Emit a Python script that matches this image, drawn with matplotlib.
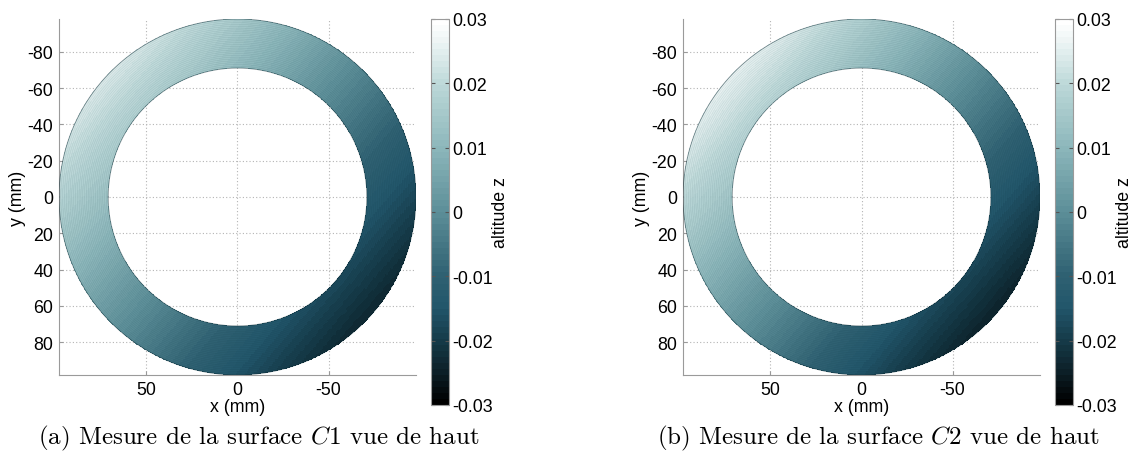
"""Top view of the two measured ring surfaces C1 and C2 (altitude z)."""
import matplotlib
matplotlib.use("Agg")
import matplotlib.pyplot as plt
import numpy as np
from matplotlib.colors import LinearSegmentedColormap

plt.rcParams["font.family"] = ["Liberation Sans", "DejaVu Sans"]
plt.rcParams["font.size"] = 12.8
plt.rcParams["mathtext.fontset"] = "cm"
plt.rcParams["axes.unicode_minus"] = False

# ring geometry (mm) and altitude read at the outer rim of each surface
RING_INNER, RING_OUTER = 71.0, 98.0
RING_STEP = 1.0
rim_z_c1 = {"left": 0.017, "right": -0.019, "top": 0.017, "bottom": -0.014}
rim_z_c2 = {"left": 0.019, "right": -0.019, "top": 0.018, "bottom": -0.015}

captions = ["(a) Mesure de la surface $C1$ vue de haut",
            "(b) Mesure de la surface $C2$ vue de haut"]
x_ticks = [50, 0, -50]
y_ticks = [-80, -60, -40, -20, 0, 20, 40, 60, 80]
z_ticks = [-0.03, -0.02, -0.01, 0, 0.01, 0.02, 0.03]
z_labels = ["-0.03", "-0.02", "-0.01", "0", "0.01", "0.02", "0.03"]

cmap = LinearSegmentedColormap.from_list("teal", [
    (0.0, "#000000"), (0.08, "#0c1f27"), (1 / 6, "#163c4a"),
    (0.25, "#22566b"), (1 / 3, "#2f6172"), (0.5, "#5c8e98"),
    (2 / 3, "#8bb6ba"), (5 / 6, "#bcd8d8"), (0.95, "#eef5f5"),
    (1.0, "#ffffff")], N=64)

GRID = "#b4b4b4"
SPINE = "#9a9a9a"
W, H = 1134, 452


def surface(ax, rim):
    th = np.linspace(0, 2 * np.pi, 721)
    r = np.arange(RING_INNER, RING_OUTER + 0.01, RING_STEP)
    T, R = np.meshgrid(th, r)
    X, Y = R * np.cos(T), R * np.sin(T)
    # tilted plane through the rim readings
    a = (rim["left"] - rim["right"]) / (2 * RING_OUTER)
    b = (rim["bottom"] - rim["top"]) / (2 * RING_OUTER)
    c = (rim["left"] + rim["right"] + rim["top"] + rim["bottom"]) / 4
    tc = 0.5 * (th[:-1] + th[1:])
    rc = 0.5 * (r[:-1] + r[1:])
    Tc, Rc = np.meshgrid(tc, rc)
    Z = a * Rc * np.cos(Tc) + b * Rc * np.sin(Tc) + c
    m = ax.pcolormesh(X, Y, Z, cmap=cmap, vmin=-0.03, vmax=0.03,
                      shading="flat", rasterized=True, zorder=2)
    for rr in r:
        edge = rr in (r[0], r[-1])
        ax.plot(rr * np.cos(th), rr * np.sin(th), color="#0a2a33",
                lw=0.6 if edge else 0.3, alpha=0.55 if edge else 0.13,
                zorder=3)
    return m


def panel(fig, left, cb_left, cap_x, rim, caption):
    ax = fig.add_axes([left / W, 1 - 376 / H, 357 / W, 356 / H])
    m = surface(ax, rim)
    ax.set_xlim(98, -98)
    ax.set_ylim(98, -98)
    ax.set_xticks(x_ticks)
    ax.set_yticks(y_ticks)
    ax.grid(True, color=GRID, ls=(0, (1, 2)), lw=0.8, zorder=0)
    ax.set_axisbelow(True)
    for s in ("top", "right"):
        ax.spines[s].set_visible(False)
    for s in ("left", "bottom"):
        ax.spines[s].set_color(SPINE)
    ax.tick_params(direction="in", length=3, color=SPINE, pad=4)
    ax.set_xlabel("x (mm)", labelpad=0)
    ax.set_ylabel("y (mm)", labelpad=1)

    cax = fig.add_axes([cb_left / W, 1 - 406 / H, 18 / W, 386 / H])
    cb = fig.colorbar(m, cax=cax, ticks=z_ticks)
    cb.ax.set_yticklabels(z_labels)
    cb.outline.set_edgecolor(SPINE)
    cb.outline.set_linewidth(0.8)
    cax.tick_params(direction="in", length=3, color="#555555", left=True,
                    right=True, pad=2)
    cb.set_label("altitude z", va="center")
    cax.yaxis.set_label_coords(3.85, 0.5)

    fig.text(cap_x / W, 1 - 438 / H, caption, ha="center", va="center",
             family="cmr10", fontsize=18)


fig = plt.figure(figsize=(W / 100, H / 100), dpi=100)
panel(fig, 59, 431, 259, rim_z_c1, captions[0])
panel(fig, 683, 1055, 878, rim_z_c2, captions[1])
fig.savefig("out.png", dpi=100)
